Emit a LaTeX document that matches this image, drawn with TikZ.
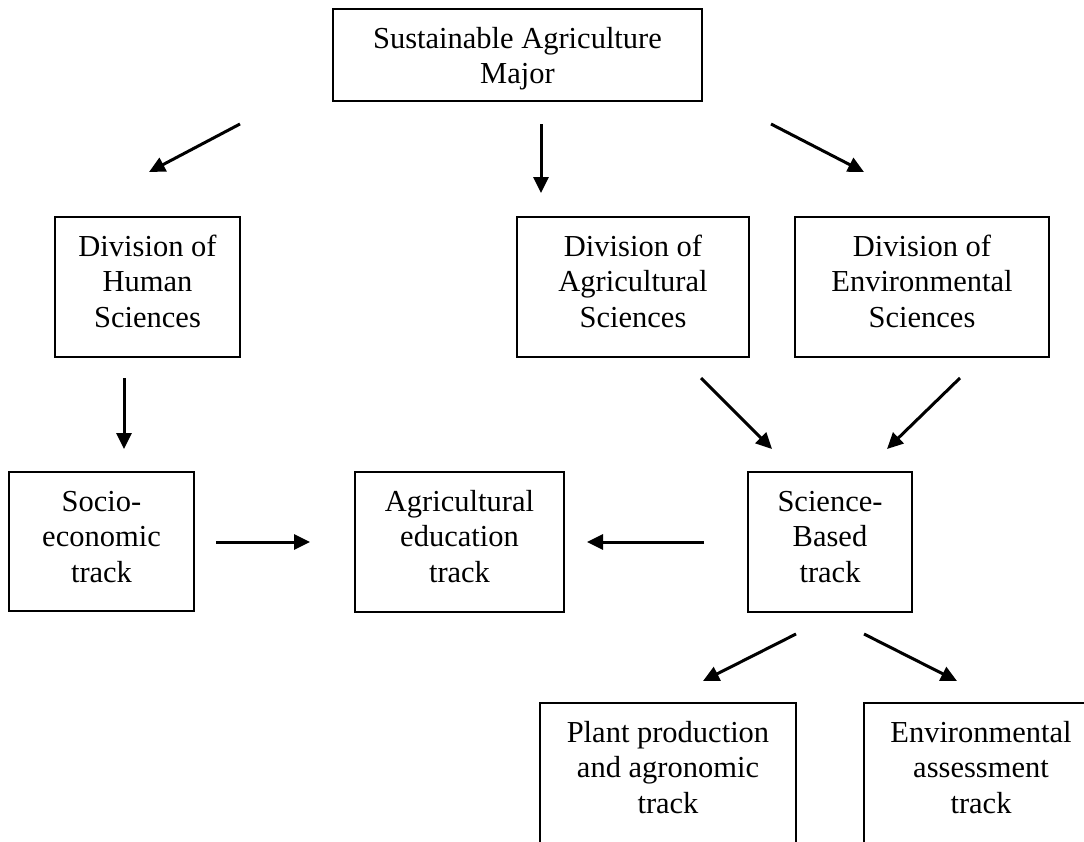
\documentclass[tikz,border=0pt]{standalone}
\usepackage{fontspec}
\setmainfont{Liberation Serif}
\usetikzlibrary{arrows.meta}
\newcommand{\boxlines}[3]{\parbox[c][#2][t]{#1}{\fontsize{30.5pt}{35.5pt}\selectfont\centering\rule{0pt}{39pt}#3}}
\begin{document}
\begin{tikzpicture}[x=1pt,y=-1pt,
  box/.style={draw, line width=1.5pt, inner sep=0pt, outer sep=0pt, rectangle},
  arr/.style={line width=3pt, -{Triangle[length=16pt,width=15pt]}}]
\path[use as bounding box] (0,0) rectangle (1084,841);
\clip (0,0) rectangle (1084,841);
% boxes
\node[box] (major)  at (517.5,55)   {\boxlines{369pt}{92pt}{Sustainable Agriculture\\Major}};
\node[box] (human)  at (147.5,287)  {\boxlines{185pt}{140pt}{Division of\\Human\\Sciences}};
\node[box] (agri)   at (633,287)    {\boxlines{232pt}{140pt}{Division of\\Agricultural\\Sciences}};
\node[box] (env)    at (922,287)    {\boxlines{254pt}{140pt}{Division of\\Environmental\\Sciences}};
\node[box] (socio)  at (101.5,541.5){\boxlines{185pt}{139pt}{Socio-\\economic\\track}};
\node[box] (aged)   at (459.5,542)  {\boxlines{209pt}{140pt}{Agricultural\\education\\track}};
\node[box] (sci)    at (830,542)    {\boxlines{164pt}{140pt}{Science-\\Based\\track}};
\node[box] (plant)  at (668,773)    {\boxlines{256pt}{140pt}{Plant production\\and agronomic\\track}};
\node[box] (envass) at (981,773)    {\boxlines{234pt}{140pt}{Environmental\\assessment\\track}};
% arrow end points
\coordinate (majorL) at (240,124);  \coordinate (humanT) at (149,172);
\coordinate (majorM) at (541,124);  \coordinate (agriT)  at (541,193);
\coordinate (majorR) at (771,124);  \coordinate (envT)   at (864,172);
\coordinate (humanB) at (124,378);  \coordinate (socioT) at (124,449);
\coordinate (agriB)  at (701,378);  \coordinate (sciTL)  at (772,449);
\coordinate (envB)   at (960,378);  \coordinate (sciTR)  at (887,449);
\coordinate (socioR) at (216,542);  \coordinate (agedL)  at (310,542);
\coordinate (sciL)   at (704,542);  \coordinate (agedR)  at (587,542);
\coordinate (sciBL)  at (796,634);  \coordinate (plantT) at (703,681);
\coordinate (sciBR)  at (864,634);  \coordinate (envassT) at (957,681);
% connectors
\draw[arr] (majorL) -- (humanT);
\draw[arr] (majorM) -- (agriT);
\draw[arr] (majorR) -- (envT);
\draw[arr] (humanB) -- (socioT);
\draw[arr] (agriB) -- (sciTL);
\draw[arr] (envB) -- (sciTR);
\draw[arr] (socioR) -- (agedL);
\draw[arr] (sciL) -- (agedR);
\draw[arr] (sciBL) -- (plantT);
\draw[arr] (sciBR) -- (envassT);
\end{tikzpicture}
\end{document}
